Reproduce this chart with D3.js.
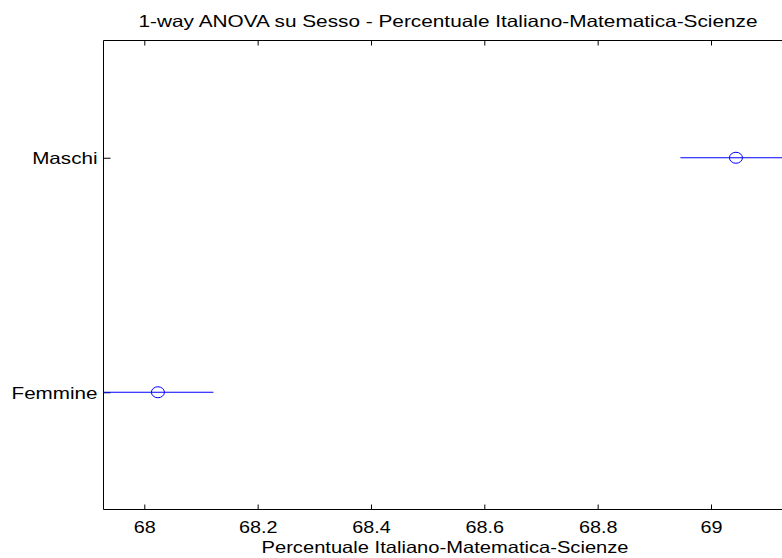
<!DOCTYPE html>
<html>
<head>
<meta charset="utf-8">
<script src="https://cdn.jsdelivr.net/npm/d3@7"></script>
<style>
  html, body { margin: 0; padding: 0; background: #fff; }
  svg { display: block; }
  text { font-family: "Liberation Sans", Arial, Helvetica, sans-serif; fill: #000; }
</style>
</head>
<body>
<svg id="chart" width="782" height="558"></svg>
<script>
// ---- data ----
const groups = ["Maschi", "Femmine"];
const groupPos = [2, 1];
const means = [69.044, 68.024];
const lowerCI = [68.946, 67.925];
const upperCI = [69.142, 68.122];
const xTicks = [68, 68.2, 68.4, 68.6, 68.8, 69];
const xTickLabels = ["68", "68.2", "68.4", "68.6", "68.8", "69"];
const titleText = "1-way ANOVA su Sesso - Percentuale Italiano-Matematica-Scienze";
const xLabelText = "Percentuale Italiano-Matematica-Scienze";
const xLim = [67.928, 69.144];
const yLim = [0.5, 2.5];

(function () {
// ---- layout ----
const mLeft = 103.5, mTop = 40.5, mBottom = 509.5;
const unit = 566.7;
const mRight = mLeft + (xLim[1] - xLim[0]) * unit;

const svg = d3.select("#chart");
const x = d3.scaleLinear().domain(xLim).range([mLeft, mRight]);
const y = d3.scaleLinear().domain(yLim).range([mBottom, mTop]);

function stretch(sel, k) {
  sel.each(function () {
    const w = this.getComputedTextLength();
    d3.select(this).attr("textLength", w * k).attr("lengthAdjust", "spacingAndGlyphs");
  });
}

svg.append("defs").append("clipPath").attr("id", "clip")
  .append("rect").attr("x", mLeft).attr("y", mTop).attr("width", mRight - mLeft).attr("height", mBottom - mTop);

// frame
const frame = [
  [mLeft, mTop, mRight, mTop],
  [mLeft, mBottom, mRight, mBottom],
  [mLeft, mTop, mLeft, mBottom],
  [mRight, mTop, mRight, mBottom]
];
svg.selectAll("line.frame").data(frame).enter().append("line").attr("class", "frame")
  .attr("x1", d => d[0]).attr("y1", d => d[1]).attr("x2", d => d[2]).attr("y2", d => d[3])
  .attr("stroke", "#000").attr("stroke-width", 1);

// x axis (bottom) with inward ticks
const xAxisB = d3.axisBottom(x).tickValues(xTicks).tickFormat((d, i) => xTickLabels[i])
  .tickSizeInner(-5).tickSizeOuter(0).tickPadding(0);
const gxb = svg.append("g").attr("transform", `translate(0,${mBottom})`).call(xAxisB);
gxb.select(".domain").remove();
gxb.selectAll(".tick line").attr("stroke", "#000");
gxb.selectAll(".tick text").attr("y", 23).attr("dy", null)
  .style("font-size", "16.5px").attr("text-anchor", "middle");
gxb.selectAll(".tick text").call(stretch, 1.2);

// x axis (top) mirrored ticks
const xAxisT = d3.axisTop(x).tickValues(xTicks).tickFormat("").tickSizeInner(-5).tickSizeOuter(0);
const gxt = svg.append("g").attr("transform", `translate(0,${mTop})`).call(xAxisT);
gxt.select(".domain").remove();
gxt.selectAll(".tick line").attr("stroke", "#000");

// y axis (left)
const yAxisL = d3.axisLeft(y).tickValues(groupPos).tickFormat((d) => groups[groupPos.indexOf(d)])
  .tickSizeInner(-7).tickSizeOuter(0).tickPadding(0);
const gyl = svg.append("g").attr("transform", `translate(${mLeft},0)`).call(yAxisL);
gyl.select(".domain").remove();
gyl.selectAll(".tick line").attr("stroke", "#000");
gyl.selectAll(".tick text").attr("x", -6).attr("dy", "0.36em")
  .style("font-size", "16.5px").attr("text-anchor", "end");
gyl.selectAll(".tick text").call(stretch, 1.25);

// y axis right mirrored ticks
const yAxisR = d3.axisRight(y).tickValues(groupPos).tickFormat("").tickSizeInner(-7).tickSizeOuter(0);
const gyr = svg.append("g").attr("transform", `translate(${mRight},0)`).call(yAxisR);
gyr.select(".domain").remove();
gyr.selectAll(".tick line").attr("stroke", "#000");

// intervals
const rows = groups.map((g, i) => ({ g, pos: groupPos[i], m: means[i], lo: lowerCI[i], hi: upperCI[i] }));
const plot = svg.append("g").attr("clip-path", "url(#clip)");
plot.selectAll("line.ci").data(rows).enter().append("line").attr("class", "ci")
  .attr("x1", d => x(d.lo)).attr("x2", d => x(d.hi))
  .attr("y1", d => y(d.pos)).attr("y2", d => y(d.pos))
  .attr("stroke", "#0000ff").attr("stroke-width", 1);
plot.selectAll("ellipse.mk").data(rows).enter().append("ellipse").attr("class", "mk")
  .attr("cx", d => x(d.m)).attr("cy", d => y(d.pos))
  .attr("rx", 6.5).attr("ry", 5.5)
  .attr("fill", "none").attr("stroke", "#0000ff").attr("stroke-width", 1);

// title
svg.append("text").attr("x", (mLeft + mRight) / 2).attr("y", 26.5)
  .attr("text-anchor", "middle").style("font-size", "16.5px").text(titleText)
  .call(stretch, 1.26);

// x label
svg.append("text").attr("x", (mLeft + mRight) / 2 - 3).attr("y", 553)
  .attr("text-anchor", "middle").style("font-size", "16.5px").text(xLabelText)
  .call(stretch, 1.22);
})();
</script>
</body>
</html>
